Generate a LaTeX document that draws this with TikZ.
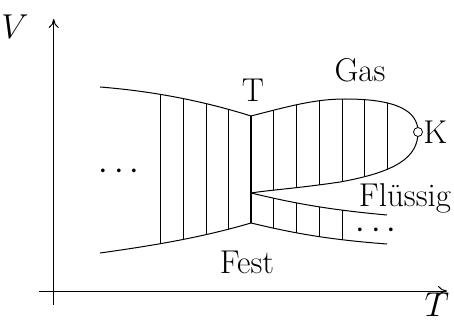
\documentclass[tikz,border=0pt]{standalone}
\usetikzlibrary{arrows.meta}
\begin{document}
\begin{tikzpicture}[x=0.5pt,y=-0.5pt,
  thin line/.style={line width=0.5pt},
  lbl/.style={font=\fontsize{16.5}{18}\selectfont, inner sep=0pt},
  axis/.style={line width=0.5pt,-{To[length=4.5pt,width=5pt]}}]
\useasboundingbox (0,0) rectangle (454,320);
% axes
\coordinate (vb) at (53.7,305);
\coordinate (vt) at (53.7,19);
\coordinate (hl) at (39,291);
\coordinate (hr) at (447,291);
\draw[axis] (vb) -- (vt);
\draw[axis] (hl) -- (hr);
\node[lbl] (V) at (15,27) {$V$};
\node[lbl] (Tax) at (437,305) {$T$};
% key points
\coordinate (TT) at (251,116);
\coordinate (TL) at (251,193);
\coordinate (TB) at (251,223);
\coordinate (K) at (418,132);
% solid (left) region
\begin{scope}
\clip (100,87) .. controls (150,91) and (200,100) .. (TT) -- (TB) .. controls (200,238) and (150,246) .. (100,253) -- cycle;
\foreach \x in {160,183,206,228} \draw[thin line] (\x,60) -- (\x,280);
\end{scope}
\draw[thin line] (100,87) .. controls (150,91) and (200,100) .. (TT);
\draw[thin line] (100,253) .. controls (150,246) and (200,238) .. (TB);
% gas region
\begin{scope}
\clip (TT) .. controls (290,106) and (315,99) .. (345,99) .. controls (395,99) and (418,110) .. (K)
  .. controls (418,158) and (395,172) .. (340,182) .. controls (300,188) and (270,190) .. (TL) -- cycle;
\foreach \x in {273,296,319,342,364,387} \draw[thin line] (\x,60) -- (\x,280);
\end{scope}
\draw[thin line] (TT) .. controls (290,106) and (315,99) .. (345,99) .. controls (395,99) and (418,110) .. (K)
  .. controls (418,158) and (395,172) .. (340,182) .. controls (300,188) and (270,190) .. (TL);
% liquid region
\begin{scope}
\clip (TL) .. controls (285,201) and (320,209) .. (387,215) -- (387,244) .. controls (320,239) and (285,231) .. (TB) -- cycle;
\foreach \x in {273,296,319,342} \draw[thin line] (\x,60) -- (\x,280);
\end{scope}
\draw[thin line] (TL) .. controls (285,201) and (320,209) .. (387,215);
\draw[thin line] (TB) .. controls (285,231) and (320,239) .. (387,244);
% triple line
\draw[line width=1.3pt] (TT) -- (TB);
% critical point
\node[circle, draw, fill=white, line width=0.4pt, inner sep=0pt, minimum size=4.5pt] (Kc) at (K) {};
% labels
\node[lbl] (Tlab) at (253,90) {T};
\node[lbl] (Gas) at (360,70) {Gas};
\node[lbl, anchor=west] (Klab) at (423,132) {K};
\node[lbl] (Fl) at (405,198) {Flüssig};
\node[lbl] (Fest) at (247,262) {Fest};
\node[lbl] (d1) at (119,172) {$\cdots$};
\node[lbl] (d2) at (376,231) {$\cdots$};
\end{tikzpicture}
\end{document}
